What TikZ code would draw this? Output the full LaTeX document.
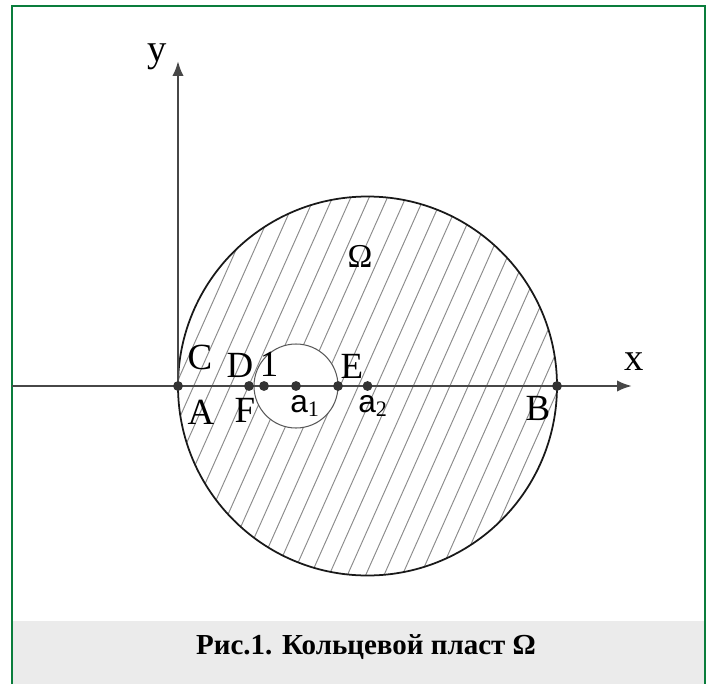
\documentclass[tikz,border=0pt]{standalone}
\usepackage{fontspec}
\setmainfont{Liberation Serif}
\setsansfont{Liberation Sans}
\usepackage{tikz}
\usetikzlibrary{arrows.meta}
\definecolor{rahmen}{RGB}{10,125,60}
\definecolor{unterlegt}{RGB}{235,235,235}

\begin{document}
\begin{tikzpicture}[x=0.02cm, y=0.02cm,
			>={Latex[length=8.5pt, width=6.5pt]},   %Voreinstellung für Pfeilspitzen
			punkt/.style={circle, fill=black!80, inner sep=0pt, minimum size=5.6pt},
			beschr/.style={inner sep=0pt, font=\fontsize{21}{24}\selectfont},
			achse/.style={black!72, line width=1.4pt},
			schraffur/.style={black!45, line width=0.55pt}]
			\useasboundingbox (0,0) rectangle (712,684);
			\fill[unterlegt] (13,0) rectangle (704,63);
			\draw[rahmen, line width=1.2pt] (12,0) -- (12,678) -- (705,678) -- (705,0);
			\node[font=\fontsize{16.5}{20}\selectfont\bfseries] (titel) at (366,37) {Рис.1. Кольцевой пласт Ω};
			% Punkte auf der x-Achse
			\coordinate (links) at (12,298);
			\coordinate (xende) at (632,298);
			\coordinate (yende) at (178,623);
			\coordinate (M) at (367.5,298);
			\coordinate (K) at (296,298);
			% Schraffur im Ring
			\begin{scope}[even odd rule]
				\clip (M) circle (189.5) (K) circle (42);
				\foreach \k in {-14,...,10}
					\draw[schraffur] ({395+18.3*\k},298) ++(246:220) -- ++(66:440);
			\end{scope}
			\draw[black!90, line width=1pt] (M) circle (189.5);
			\draw[black!65, line width=0.6pt] (K) circle (42);
			\draw[achse, ->] (links) -- (xende);
			\draw[achse, ->] (178,298) -- (yende);
			\node[punkt] (A) at (178,298) {};
			\node[punkt] (F) at (249,298) {};
			\node[punkt] (eins) at (264,298) {};
			\node[punkt] (a1) at (296,298) {};
			\node[punkt] (E) at (338,298) {};
			\node[punkt] (a2) at (367.5,298) {};
			\node[punkt] (B) at (557,298) {};
			\node[beschr] (lC) at (200,327) {C};
			\node[beschr] (lA) at (201,271.5) {A};
			\node[beschr] (lD) at (240,318.5) {D};
			\node[beschr] (leins) at (269,319.5) {1};
			\node[beschr] (lF) at (245,273.5) {F};
			\node[beschr] (lE) at (352,318) {E};
			\node[beschr] (lB) at (538,276) {B};
			\node[beschr, font=\fontsize{18}{20}\selectfont\sffamily, anchor=base west] (la1) at (290,272) {a\textsubscript{\rmfamily 1}};
			\node[beschr, font=\fontsize{18}{20}\selectfont\sffamily, anchor=base west] (la2) at (358,272) {a\textsubscript{\rmfamily 2}};
			\node[beschr, font=\fontsize{19}{22}\selectfont] (lOmega) at (360,428) {Ω};
			\node[beschr, font=\fontsize{22}{26}\selectfont] (lx) at (634,322) {x};
			\node[beschr, font=\fontsize{22}{26}\selectfont, anchor=base] (ly) at (157,622) {y};
		\end{tikzpicture}
\end{document}
